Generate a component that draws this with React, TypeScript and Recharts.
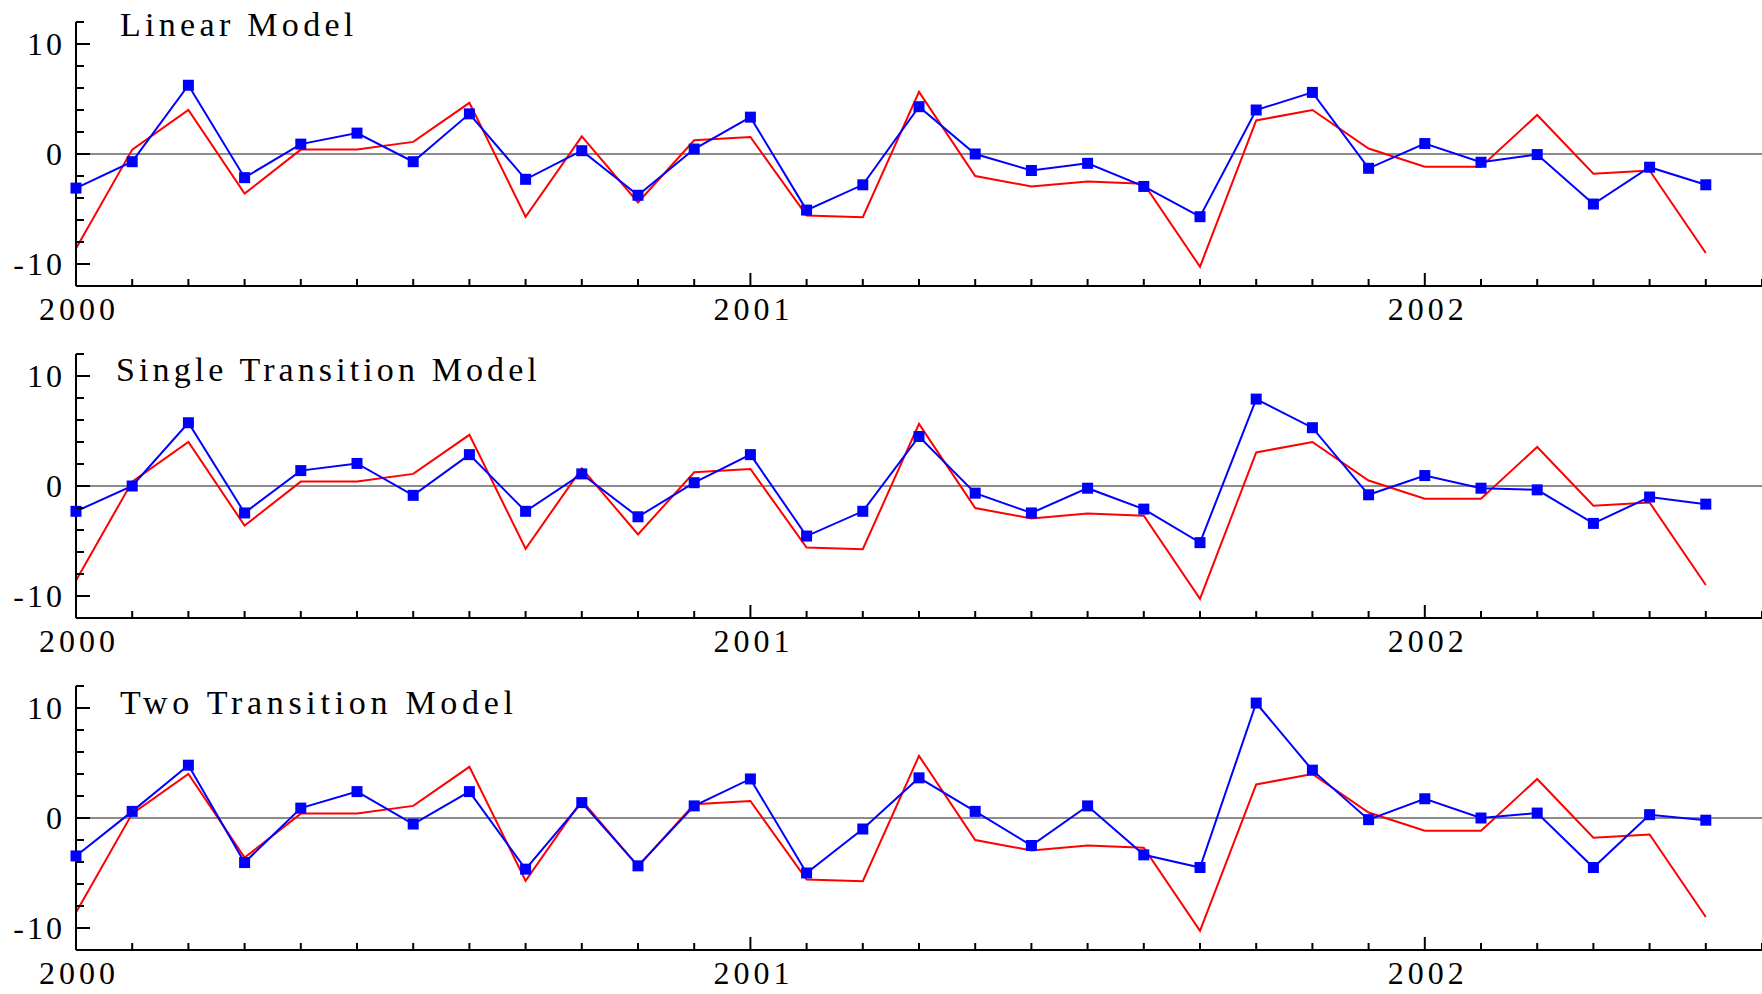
import React from "react";
import { LineChart, Line, XAxis, YAxis, ReferenceLine } from "recharts";

// monthly values, Jan 2000 .. Jun 2002
const actual = [-8.6, 0.4, 4.0, -3.6, 0.4, 0.4, 1.1, 4.65, -5.7, 1.6, -4.4, 1.25, 1.55, -5.6, -5.75, 5.65, -2.0, -2.95, -2.5, -2.7, -10.25, 3.05, 4.0, 0.5, -1.15, -1.15, 3.55, -1.8, -1.5, -9.0];
const linearModel = [-3.1, -0.7, 6.25, -2.15, 0.9, 1.9, -0.7, 3.65, -2.3, 0.3, -3.75, 0.45, 3.35, -5.1, -2.8, 4.3, 0, -1.5, -0.85, -2.95, -5.7, 4.0, 5.6, -1.3, 0.95, -0.75, -0.05, -4.55, -1.2, -2.8];
const singleModel = [-2.3, 0, 5.75, -2.45, 1.4, 2.05, -0.85, 2.85, -2.3, 1.1, -2.8, 0.3, 2.85, -4.55, -2.3, 4.5, -0.65, -2.45, -0.2, -2.1, -5.15, 7.9, 5.3, -0.8, 0.95, -0.2, -0.35, -3.4, -1.0, -1.65];
const twoModel = [-3.45, 0.6, 4.8, -4.05, 0.9, 2.4, -0.55, 2.4, -4.65, 1.4, -4.35, 1.1, 3.55, -5.0, -1.0, 3.65, 0.6, -2.5, 1.1, -3.35, -4.5, 10.45, 4.35, -0.15, 1.75, 0, 0.45, -4.5, 0.3, -0.2];

const yearTicks = [0, 12, 24];
const yearLabels = ["2000", "2001", "2002"];
const yLabelled = [-10, 0, 10];

const FONT = "Liberation Serif, Times New Roman, serif";
const W = 1762;

const monthTicks = Array.from({ length: 31 }, (_, i) => i);
const yTicks = [-12, -10, -8, -6, -4, -2, 0, 2, 4, 6, 8, 10, 12];

function XTick(props: any) {
  const { x, y, payload } = props;
  const yi = yearTicks.indexOf(payload.value);
  const len = yi >= 0 ? 13 : 7;
  return (
    <g>
      <line x1={x} x2={x} y1={y} y2={y - len} stroke="#000" strokeWidth={2} />
      {yi >= 0 && (
        <text x={x + 3} y={y + 23} textAnchor="middle" dominantBaseline="central" fontFamily={FONT} fontSize={32} letterSpacing={4} fill="#000">
          {yearLabels[yi]}
        </text>
      )}
    </g>
  );
}

function YTick(props: any) {
  const { x, y, payload } = props;
  const big = yLabelled.includes(payload.value);
  return (
    <g>
      <line x1={x} x2={x + (big ? 14 : 8)} y1={y} y2={y} stroke="#000" strokeWidth={2} />
      {big && (
        <text x={x - 11} y={y} textAnchor="end" dominantBaseline="central" fontFamily={FONT} fontSize={32} letterSpacing={3} fill="#000">
          {payload.value}
        </text>
      )}
    </g>
  );
}

function SquareDot(props: any) {
  const { cx, cy, index } = props;
  if (cx == null || cy == null) return <g key={index} />;
  return <rect key={index} x={cx - 5.5} y={cy - 5.5} width={11} height={11} fill="#0000ff" />;
}

function Panel({
  title,
  model,
  height,
  titleTop,
  titleLeft,
  spacing,
}: {
  title: string;
  model: number[];
  height: number;
  titleTop: number;
  titleLeft: number;
  spacing: number;
}) {
  const data = actual.map((v, i) => ({ t: i, actual: v, model: model[i] }));
  return (
    <div style={{ position: "relative", width: W, height }}>
      <LineChart width={W} height={height} data={data} margin={{ top: 22, right: 0, bottom: 0, left: 0 }}>
        <XAxis
          type="number"
          dataKey="t"
          domain={[0, 30]}
          ticks={monthTicks}
          interval={0}
          tickSize={0}
          tickMargin={0}
          tickLine={false}
          tick={<XTick />}
          axisLine={{ stroke: "#000", strokeWidth: 2 }}
          height={height - 286}
        />
        <YAxis
          type="number"
          domain={[-12, 12]}
          ticks={yTicks}
          interval={0}
          tickSize={0}
          tickMargin={0}
          tickLine={false}
          tick={<YTick />}
          axisLine={{ stroke: "#000", strokeWidth: 2 }}
          width={76}
        />
        <ReferenceLine y={0} stroke="#8c8c8c" strokeWidth={2} />
        <Line type="linear" dataKey="actual" stroke="#ff0000" strokeWidth={2} dot={false} isAnimationActive={false} />
        <Line type="linear" dataKey="model" stroke="#0000ff" strokeWidth={2} dot={<SquareDot />} isAnimationActive={false} />
      </LineChart>
      <div
        style={{
          position: "absolute",
          left: titleLeft,
          top: titleTop,
          fontFamily: FONT,
          fontSize: 34,
          letterSpacing: spacing,
          lineHeight: "34px",
          color: "#000",
          whiteSpace: "nowrap",
        }}
      >
        {title}
      </div>
    </div>
  );
}

export default function App() {
  return (
    <div style={{ position: "absolute", left: 0, top: 0, width: W, height: 994, background: "#fff", overflow: "hidden" }}>
      <Panel title="Linear Model" model={linearModel} height={332} titleTop={8} titleLeft={120} spacing={4.3} />
      <Panel title="Single Transition Model" model={singleModel} height={332} titleTop={21} titleLeft={116} spacing={4.1} />
      <Panel title="Two Transition Model" model={twoModel} height={330} titleTop={22} titleLeft={120} spacing={4.7} />
    </div>
  );
}
